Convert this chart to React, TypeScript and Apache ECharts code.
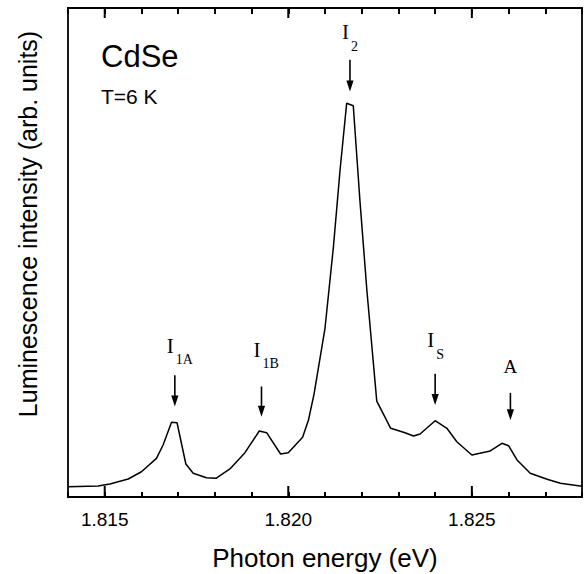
import React, { useEffect, useRef } from "react";
import * as echarts from "echarts";

// Photoluminescence spectrum
const energy = [
  1.814, 1.81482, 1.81514, 1.81564, 1.816, 1.81641, 1.81659, 1.81682, 1.81697,
  1.81721, 1.81741, 1.81777, 1.81803, 1.81841, 1.81882, 1.81921, 1.81941,
  1.81979, 1.82, 1.82039, 1.82055, 1.8207, 1.821, 1.82123, 1.82141, 1.82159,
  1.82177, 1.82195, 1.82214, 1.82241, 1.82279, 1.82318, 1.82341, 1.82359,
  1.824, 1.82432, 1.82459, 1.825, 1.8255, 1.82582, 1.826, 1.82623, 1.82659,
  1.82705, 1.82741, 1.82795, 1.828,
];
const intensity = [
  2.1, 2.25, 2.66, 3.68, 5.17, 7.91, 10.63, 15.28, 15.19, 6.75, 4.85, 3.95,
  3.82, 5.73, 9.06, 13.5, 13.15, 8.79, 9.06, 12.21, 15.75, 21.0, 34.5, 51.19,
  66.87, 80.51, 80.0, 60.74, 42.33, 19.6, 14.05, 13.15, 12.47, 12.88, 15.6,
  14.05, 11.31, 8.59, 9.41, 10.98, 10.49, 7.57, 4.85, 3.62, 2.8, 2.25, 2.2,
];

// Axis ticks
const xMin = 1.814;
const xMax = 1.828;
const minorStep = 0.001;
const majorTicks = [1.815, 1.82, 1.825];

// Peak annotations (energy, arrow start / tip and label centre in intensity units)
const peakMain = ["I", "I", "I", "I", "A"];
const peakSub = ["1A", "1B", "2", "S", ""];
const peakEnergy = [1.81691, 1.81927, 1.82168, 1.824, 1.82605];
const arrowTop = [24.9, 22.6, 89.4, 25.2, 21.3];
const arrowTip = [18.5, 16.4, 82.9, 18.8, 15.7];
const labelY = [30.9, 30.1, 95.0, 32.1, 26.7];

const SANS = "'Liberation Sans', Arial, Helvetica, sans-serif";
const SERIF = "'Liberation Serif', 'Times New Roman', serif";

const isMajor = (v: number) => majorTicks.some((m) => Math.abs(m - v) < 1e-7);

export default function App() {
  const ref = useRef<HTMLDivElement>(null);

  useEffect(() => {
    if (!ref.current) return;
    const chart = echarts.init(ref.current, null, { renderer: "svg" });
    const axisLine = { show: true, onZero: false, lineStyle: { color: "#000", width: 1.8 } };
    const option: any = {
      animation: false,
      backgroundColor: "#fff",
      grid: {
        left: 68,
        right: 2,
        top: 8,
        bottom: 77,
        show: true,
        borderColor: "#000",
        borderWidth: 1.8,
        containLabel: false,
        outerBoundsMode: "none",
      },
      xAxis: [
        {
          type: "value",
          position: "bottom",
          min: xMin,
          max: xMax,
          interval: minorStep,
          axisLine,
          splitLine: { show: false },
          axisTick: {
            show: true,
            inside: true,
            length: 5,
            lineStyle: { color: "#000", width: 2 },
          },
          axisLabel: {
            show: true,
            formatter: (v: number) => (isMajor(v) ? v.toFixed(3) : ""),
            fontSize: 19,
            fontFamily: SANS,
            color: "#000",
            margin: 13,
            hideOverlap: false,
            interval: 0,
          },
          name: "Photon energy (eV)",
          nameLocation: "middle",
          nameGap: 48,
          nameTextStyle: { fontSize: 26, fontFamily: SANS, color: "#000" },
        },
        {
          type: "value",
          position: "top",
          min: xMin,
          max: xMax,
          interval: minorStep,
          axisLine,
          splitLine: { show: false },
          axisTick: {
            show: true,
            inside: true,
            length: 6,
            lineStyle: { color: "#000", width: 2 },
          },
          axisLabel: { show: false },
        },
      ],
      yAxis: {
        type: "value",
        min: 0,
        max: 100,
        axisLine: { show: false },
        axisTick: { show: false },
        axisLabel: { show: false },
        splitLine: { show: false },
      },
      series: [
        {
          type: "line",
          xAxisIndex: 0,
          yAxisIndex: 0,
          data: energy.map((e, i) => [e, intensity[i]]),
          showSymbol: false,
          symbol: "none",
          lineStyle: { color: "#000", width: 1.5 },
          silent: true,
        },
      ],
    };
    chart.setOption(option);

    const px = (x: number, y: number) =>
      chart.convertToPixel({ xAxisIndex: 0, yAxisIndex: 0 }, [x, y]) as number[];

    const txt = (
      x: number,
      y: number,
      text: string,
      fontSize: number,
      fontFamily: string,
      align: string,
      extra: any = {}
    ) => ({
      type: "text",
      x,
      y,
      ...extra,
      style: {
        text,
        fontSize,
        fontFamily,
        fill: "#000",
        textAlign: align,
        textVerticalAlign: "middle",
        align,
        verticalAlign: "middle",
      },
    });

    const graphics: any[] = [
      txt(101, 56.5, "CdSe", 31, SANS, "left"),
      txt(101, 96.5, "T=6 K", 21, SANS, "left"),
      txt(27.5, 224, "Luminescence intensity (arb. units)", 25, SANS, "center", {
        rotation: Math.PI / 2,
      }),
    ];

    // major ticks (longer), bottom and top
    majorTicks.forEach((m) => {
      const [bx, by] = px(m, 0);
      const [, ty] = px(m, 100);
      graphics.push({
        type: "line",
        shape: { x1: bx, y1: by, x2: bx, y2: by - 11 },
        style: { stroke: "#000", lineWidth: 2 },
      });
      graphics.push({
        type: "line",
        shape: { x1: bx, y1: ty, x2: bx, y2: ty + 10 },
        style: { stroke: "#000", lineWidth: 2 },
      });
    });

    peakEnergy.forEach((e, i) => {
      const [ax, ay1] = px(e, arrowTop[i]);
      const [, ay2] = px(e, arrowTip[i]);
      const [, ly] = px(e, labelY[i]);
      graphics.push({
        type: "line",
        shape: { x1: ax, y1: ay1, x2: ax, y2: ay2 - 8 },
        style: { stroke: "#000", lineWidth: 1.6 },
      });
      graphics.push({
        type: "polygon",
        shape: {
          points: [
            [ax, ay2],
            [ax - 3.6, ay2 - 11],
            [ax + 3.6, ay2 - 11],
          ],
        },
        style: { fill: "#000" },
      });
      if (peakSub[i]) {
        graphics.push(txt(ax - 8, ly, peakMain[i], 21, SERIF, "left"));
        graphics.push(txt(ax + 1, ly + 14, peakSub[i], 14, SERIF, "left"));
      } else {
        graphics.push(txt(ax, ly, peakMain[i], 19, SERIF, "center"));
      }
    });

    chart.setOption({ graphic: { elements: graphics } });

    return () => {
      chart.dispose();
    };
  }, []);

  return (
    <div
      ref={ref}
      style={{ position: "absolute", left: 0, top: 0, width: 584, height: 574 }}
    />
  );
}
